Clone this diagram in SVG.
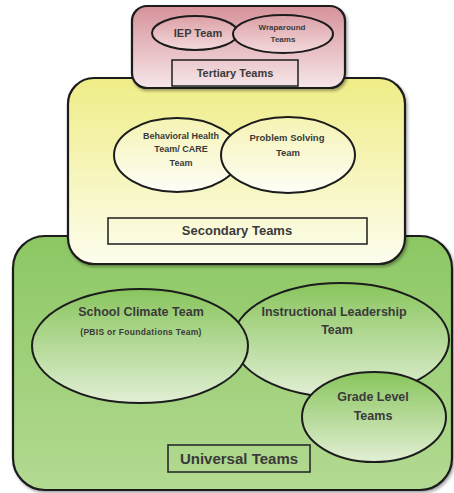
<svg xmlns="http://www.w3.org/2000/svg" width="454" height="493" viewBox="0 0 454 493">
<defs>
<linearGradient id="gU" x1="0" y1="0" x2="0" y2="1"><stop offset="0" stop-color="#8cc763"/><stop offset="1" stop-color="#b3da92"/></linearGradient>
<linearGradient id="gUe" x1="0" y1="0" x2="0" y2="1"><stop offset="0" stop-color="#88c55c"/><stop offset="1" stop-color="#e2efd5"/></linearGradient>
<linearGradient id="gS" x1="0" y1="0" x2="0" y2="1"><stop offset="0" stop-color="#efed86"/><stop offset="1" stop-color="#fdfdee"/></linearGradient>
<linearGradient id="gSe" x1="0" y1="0" x2="0" y2="1"><stop offset="0" stop-color="#f5f3b3"/><stop offset="1" stop-color="#fefef7"/></linearGradient>
<linearGradient id="gT" x1="0" y1="0" x2="0" y2="1"><stop offset="0" stop-color="#d6929a"/><stop offset="1" stop-color="#f6e6e8"/></linearGradient>
<linearGradient id="gTe" x1="0" y1="0" x2="0" y2="1"><stop offset="0" stop-color="#dba0a6"/><stop offset="1" stop-color="#f3d9dc"/></linearGradient>
<filter id="sh" x="-5%" y="-5%" width="115%" height="115%"><feDropShadow dx="1.5" dy="2" stdDeviation="1.5" flood-color="#000" flood-opacity="0.35"/></filter>
</defs>
<style>
.box{stroke:#1c1c1c;stroke-width:2.2;filter:url(#sh)}
.ell{stroke:#1c1c1c;stroke-width:2}
.lab{fill:none;stroke:#2a2a2a;stroke-width:1.6}
text{font-family:"Liberation Sans",Arial,sans-serif;font-weight:bold;fill:#3a3a3a;text-anchor:middle}
</style>
<g id="universal">
<rect class="box" x="13" y="236" width="439" height="254" rx="32" fill="url(#gU)"/>
<g id="instructional"><ellipse class="ell" cx="341" cy="340" rx="108" ry="57" fill="url(#gUe)"/>
<text x="334" y="316" font-size="12.5">Instructional Leadership</text>
<text x="337" y="334" font-size="12.5">Team</text></g>
<g id="school-climate"><ellipse class="ell" cx="140" cy="346" rx="108" ry="57" fill="url(#gUe)"/>
<text x="141" y="316" font-size="12.5">School Climate Team</text>
<text x="141" y="335" font-size="8.5" letter-spacing="0.3">(PBIS or Foundations Team)</text></g>
<g id="grade-level"><ellipse class="ell" cx="374" cy="417" rx="72" ry="45" fill="url(#gUe)"/>
<text x="373" y="401" font-size="12.5">Grade Level</text>
<text x="373" y="420" font-size="12.5">Teams</text></g>
<g id="universal-label"><rect class="lab" x="168" y="445" width="142" height="27"/>
<text x="239" y="464" font-size="15">Universal Teams</text></g>
</g>
<g id="secondary">
<rect class="box" x="68" y="78" width="337" height="186" rx="26" fill="url(#gS)"/>
<g id="behavioral"><ellipse class="ell" cx="177" cy="155" rx="63" ry="37" fill="url(#gSe)"/>
<text x="181" y="139" font-size="9">Behavioral Health</text>
<text x="181" y="152" font-size="9">Team/ CARE</text>
<text x="181" y="166" font-size="9">Team</text></g>
<g id="problem-solving"><ellipse class="ell" cx="288" cy="155" rx="67" ry="38" fill="url(#gSe)"/>
<text x="287" y="141" font-size="9.5">Problem Solving</text>
<text x="288" y="156" font-size="9.5">Team</text></g>
<g id="secondary-label"><rect class="lab" x="108" y="218" width="259" height="26"/>
<text x="237" y="235" font-size="13">Secondary Teams</text></g>
</g>
<g id="tertiary">
<rect class="box" x="132" y="6" width="213" height="82" rx="15" fill="url(#gT)"/>
<g id="iep"><ellipse class="ell" cx="195" cy="33" rx="43" ry="17" fill="url(#gTe)"/>
<text x="198" y="37" font-size="11">IEP Team</text></g>
<g id="wraparound"><ellipse class="ell" cx="283" cy="34" rx="50" ry="19" fill="url(#gTe)"/>
<text x="282" y="30" font-size="8">Wraparound</text>
<text x="283" y="42" font-size="8">Teams</text></g>
<g id="tertiary-label"><rect class="lab" x="172" y="60" width="126" height="26"/>
<text x="235" y="77" font-size="11">Tertiary Teams</text></g>
</g>
<g id="connectors"/>
</svg>
